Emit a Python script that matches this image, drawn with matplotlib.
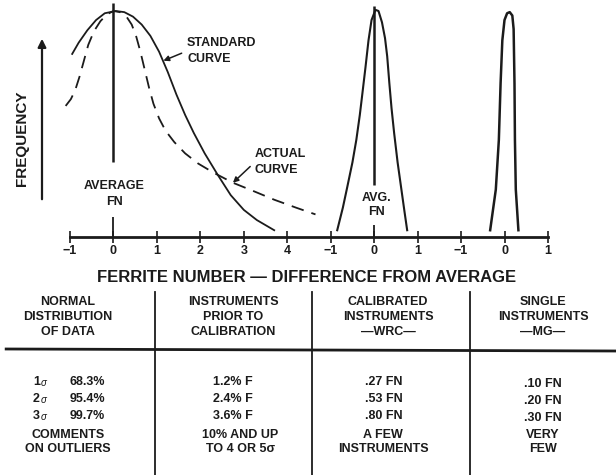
import matplotlib.pyplot as plt
from matplotlib.lines import Line2D

W, H = 616, 475
INK = '#1b1b1b'
FONT = ['Liberation Sans', 'DejaVu Sans']
plt.rcParams['font.family'] = FONT
plt.rcParams['font.weight'] = 'bold'

# shared ferrite number axis, three panels side by side
tick_labels = ['\u22121', '0', '1', '2', '3', '4',
               '\u22121', '0', '1', '\u22121', '0', '1']
panel_zero = [1, 7, 10]

# instruments prior to calibration
std_x = [-0.95, -0.8, -0.6, -0.4, -0.2, 0.05, 0.25, 0.45, 0.65, 0.85,
         1.05, 1.25, 1.45, 1.65, 1.85, 2.1, 2.4, 2.7, 3.0, 3.3, 3.7]
std_y = [81, 86, 91.5, 96, 99, 100, 99.5, 97.5, 94, 89,
         82, 73, 63, 54, 46, 37, 27.5, 18.5, 12, 7.5, 3]
act_x = [-1.1, -0.98, -0.88, -0.78, -0.68, -0.58, -0.45, -0.3, -0.15, 0.0,
         0.15, 0.3, 0.42, 0.52, 0.62, 0.72, 0.82, 0.92, 1.05, 1.2,
         1.4, 1.65, 1.95, 2.3, 2.75, 3.2, 3.7, 4.2, 4.65]
act_y = [58, 61, 65, 71, 78, 85, 91, 95.5, 98.5, 100,
         99.5, 97.5, 94, 89, 82, 74, 66, 59, 52.5, 47,
         42, 37, 32.5, 28.5, 24, 20.5, 16.5, 13, 10]
# calibrated instruments - WRC
wrc_x = [-0.85, -0.72, -0.62, -0.5, -0.41, -0.33, -0.28, -0.2, -0.13, -0.06,
         0.03, 0.1, 0.18, 0.25, 0.3, 0.35, 0.4, 0.46, 0.54, 0.62, 0.7, 0.76]
wrc_y = [3, 13, 22, 33, 43, 54, 62, 75, 87, 96,
         100.5, 100, 95, 88, 80, 68, 57, 46, 33, 22, 11, 3]
# single instrument - MG
mg_x = [-0.33, -0.2, -0.13, -0.09, -0.05, 0.0, 0.06, 0.12, 0.18, 0.21,
        0.23, 0.24, 0.26, 0.32]
mg_y = [3, 21, 43, 68, 87, 96, 99, 99.5, 98, 92, 68, 43, 21, 3]

# "average" marker lines in the first two panels
avg_top = [103.5, 102]
avg_bottom = [33, 23]
avg_stub = [9, 5.5]

# table
header_labels = ['NORMAL\nDISTRIBUTION\nOF DATA',
                 'INSTRUMENTS\nPRIOR TO\nCALIBRATION',
                 'CALIBRATED\nINSTRUMENTS\n\u2014WRC\u2014',
                 'SINGLE\nINSTRUMENTS\n\u2014MG\u2014']
sigma_levels = ['1', '2', '3']
normal_pct = ['68.3%', '95.4%', '99.7%']
prior_cal = ['1.2% F', '2.4% F', '3.6% F']
wrc_spread = ['.27 FN', '.53 FN', '.80 FN']
mg_spread = ['.10 FN', '.20 FN', '.30 FN']
outlier_comments = ['COMMENTS\nON OUTLIERS', '10% AND UP\nTO 4 OR 5\u03c3',
                    'A FEW\nINSTRUMENTS', 'VERY\nFEW']


def fpos(px, py):
    return px / W, 1 - py / H


fig = plt.figure(figsize=(W / 100, H / 100), dpi=100)
fig.patch.set_facecolor('white')

# axes placed so that u=0 sits at x=70px, baseline at y=237px
ax = fig.add_axes([0, 1 - 260 / H, 1, 260 / H])
ax.set_xlim(-70 / 43.45, (W - 70) / 43.45)
ax.set_ylim(-23 / 2.26, 237 / 2.26)
ax.patch.set_alpha(0)

p1, p2, p3 = panel_zero
ax.plot([x + p1 for x in std_x], std_y, color=INK, lw=1.3)
ax.plot([x + p1 for x in act_x], act_y, color=INK, lw=1.3, dashes=(7, 4.5))
ax.plot([x + p2 for x in wrc_x], wrc_y, color=INK, lw=1.5)
ax.plot([x + p3 for x in mg_x], mg_y, color=INK, lw=1.8)

for p, top, bot, stub in zip(panel_zero[:2], avg_top, avg_bottom, avg_stub):
    ax.vlines(p, bot, top, color=INK, lw=1.8)
    ax.vlines(p, 0, stub, color=INK, lw=1.3)

for s in ['left', 'right', 'top']:
    ax.spines[s].set_visible(False)
ax.spines['bottom'].set_position(('data', 0))
ax.spines['bottom'].set_bounds(0, len(tick_labels) - 1)
ax.spines['bottom'].set_linewidth(2)
ax.spines['bottom'].set_color(INK)
ax.set_yticks([])
ax.set_xticks(range(len(tick_labels)))
ax.set_xticklabels(tick_labels, fontsize=9, fontweight='bold', color=INK)
ax.tick_params(axis='x', direction='inout', length=8, width=1.2,
               color=INK, pad=2)

ax.text(p1 + 0.02, 19, 'AVERAGE\nFN', ha='center', va='center',
        fontsize=9, color=INK, linespacing=1.4)
ax.text(p2 + 0.05, 14, 'AVG.\nFN', ha='center', va='center',
        fontsize=9, color=INK, linespacing=1.25)

ax.annotate('STANDARD\nCURVE', xy=(std_x[10] + p1 + 0.1, std_y[10] - 4),
            xytext=(187 / 43.45 - 70 / 43.45, (237 - 51) / 2.26),
            ha='left', va='center', fontsize=9, color=INK, linespacing=1.4,
            arrowprops=dict(arrowstyle='-|>', color=INK, lw=1.1,
                            mutation_scale=8, shrinkA=2, shrinkB=0,
                            relpos=(0, 0.5)))
ax.annotate('ACTUAL\nCURVE', xy=(act_x[24] + p1, act_y[24]),
            xytext=(255 / 43.45 - 70 / 43.45, (237 - 162) / 2.26),
            ha='left', va='center', fontsize=9, color=INK, linespacing=1.4,
            arrowprops=dict(arrowstyle='-|>', color=INK, lw=1.1,
                            mutation_scale=8, shrinkA=2, shrinkB=0,
                            relpos=(0, 0.5)))

# frequency arrow and label
ax.annotate('', xy=fpos(42, 36), xytext=fpos(42, 202),
            xycoords='figure fraction', textcoords='figure fraction',
            arrowprops=dict(arrowstyle='-|>', color=INK, lw=1.6,
                            mutation_scale=12))
fig.text(*fpos(22, 138), 'FREQUENCY', rotation=90, ha='center', va='center',
         fontsize=11, color=INK)
fig.text(*fpos(307, 278), 'FERRITE NUMBER \u2014 DIFFERENCE FROM AVERAGE',
         ha='center', va='center', fontsize=12, color=INK)

# table grid
col_x = [68, 233, 388, 543]
sep_x = [155, 312, 470]
for sx in sep_x:
    fig.add_artist(Line2D([sx / W, sx / W], [1 - 292 / H, 0],
                          color=INK, lw=1.3))
fig.add_artist(Line2D([0.01, 1], [1 - 349 / H, 1 - 351 / H], color=INK, lw=2))

for cx, lab in zip(col_x, header_labels):
    fig.text(*fpos(cx, 317), lab, ha='center', va='center', fontsize=9,
             color=INK, linespacing=1.3)

row_y = [382, 399, 416]
for ry, sg, pc, a, b, c in zip(row_y, sigma_levels, normal_pct,
                              prior_cal, wrc_spread, mg_spread):
    fig.text(*fpos(33, ry), sg, ha='left', va='center', fontsize=9, color=INK)
    fig.text(*fpos(41, ry + 1), '\u03c3', ha='left', va='center', fontsize=7,
             style='italic', fontweight='normal', color=INK)
    fig.text(*fpos(70, ry), pc, ha='left', va='center', fontsize=9, color=INK)
    fig.text(*fpos(col_x[1], ry), a, ha='center', va='center', fontsize=9,
             color=INK)
    fig.text(*fpos(384, ry), b, ha='center', va='center', fontsize=9,
             color=INK)
    fig.text(*fpos(col_x[3], ry + 2), c, ha='center', va='center', fontsize=9,
             color=INK)

for cx, lab in zip([68, 240, 383, 543], outlier_comments):
    fig.text(*fpos(cx, 442), lab, ha='center', va='center', fontsize=9,
             color=INK, linespacing=1.3)

fig.savefig('out.png', dpi=100, facecolor='white')
